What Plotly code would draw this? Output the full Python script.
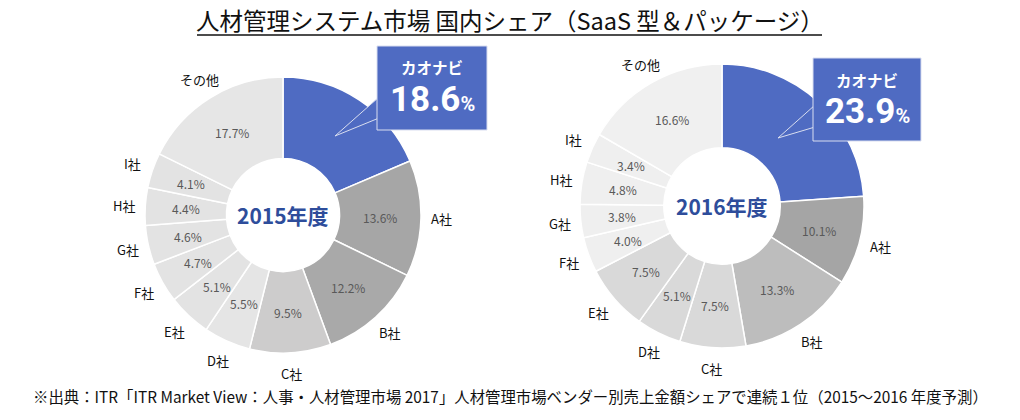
import math
import plotly.graph_objects as go

OFF = 8  # default page margin of the html body
W, H = 1020 - 2 * OFF, 420 - 2 * OFF

labels = ["カオナビ", "A社", "B社", "C社", "D社", "E社", "F社", "G社", "H社", "I社", "その他"]
share_2015 = [18.6, 13.6, 12.2, 9.5, 5.5, 5.1, 4.7, 4.6, 4.4, 4.1, 17.7]
share_2016 = [23.9, 10.1, 13.3, 7.5, 5.1, 7.5, 4.0, 3.8, 4.8, 3.4, 16.6]
years = ["2015年度", "2016年度"]
title_text = "人材管理システム市場 国内シェア（SaaS 型＆パッケージ）"
source_text = "※出典：ITR「ITR Market View：人事・人材管理市場 2017」人材管理市場ベンダー別売上金額シェアで連続１位（2015～2016 年度予測）"

colors_2015 = ["#4F6BC2", "#A6A6A6", "#A9A9A9", "#CDCCCC", "#E5E5E5", "#E3E3E3",
               "#E3E3E3", "#E3E3E3", "#E3E3E3", "#E3E3E3", "#E6E6E6"]
colors_2016 = ["#4F6BC2", "#A5A5A5", "#BDBDBD", "#D9D9D9", "#D9D9D9", "#D9D9D9",
               "#EFEFEF", "#EFEFEF", "#EFEFEF", "#EFEFEF", "#F0F0F0"]

FONT = "Noto Sans CJK JP"
HOLE = 0.41


def px(x):
    return (x - OFF) / W


def py(y):
    return 1 - (y - OFF) / H


def dom(cx, cy, r):
    return dict(x=[px(cx - r), px(cx + r)], y=[py(cy + r), py(cy - r)])


fig = go.Figure()

charts = [
    dict(vals=share_2015, cols=colors_2015, cx=283, cy=215, r=138, year=years[0],
         box=(377, 46, 487, 130), tip=(335, 136), b1=97, b2=118, t1=67, t2=100),
    dict(vals=share_2016, cols=colors_2016, cx=722, cy=206, r=142, year=years[1],
         box=(813, 58, 921, 141), tip=(778, 138), b1=105, b2=127, t1=80, t2=111),
]

shapes = []
annotations = []


def note(x, y, text, size, color, family=FONT):
    annotations.append(dict(x=px(x), y=py(y), xref="paper", yref="paper", showarrow=False,
                            xanchor="center", yanchor="middle", text=text,
                            font=dict(family=family, size=size, color=color)))


for c in charts:
    fig.add_trace(go.Pie(
        labels=labels, values=c["vals"], sort=False, direction="clockwise", rotation=0,
        hole=HOLE, domain=dom(c["cx"], c["cy"], c["r"]),
        marker=dict(colors=c["cols"], line=dict(color="white", width=1.5)),
        textinfo="none", hoverinfo="skip", showlegend=False,
    ))
    # slice value (mid ring) and category label (outside), at each slice's mid angle
    total = sum(c["vals"])
    cum = 0.0
    for lab, v in zip(labels, c["vals"]):
        mid = (cum + v / 2) / total * 2 * math.pi
        cum += v
        if lab == labels[0]:
            continue
        s, co = math.sin(mid), math.cos(mid)
        dm = c["r"] * (1 + HOLE) / 2
        note(c["cx"] + dm * s, c["cy"] - dm * co, f"{v:.1f}%", 12, "#595959")
        d = c["r"] + 21
        note(c["cx"] + d * s, c["cy"] - d * co, lab, 13, "#111111")
    note(c["cx"], c["cy"], "<b>" + c["year"] + "</b>", 21, "#2E4D9B")
    x0, y0, x1, y1 = c["box"]
    tx, ty = c["tip"]
    shapes.append(dict(type="path", xref="paper", yref="paper",
                       path=f"M {px(x0+2)} {py(c['b1'])} L {px(tx)} {py(ty)} L {px(x0+2)} {py(c['b2'])} Z",
                       fillcolor="#4F6BC2", line=dict(color="#D9DEF0", width=1)))
    shapes.append(dict(type="rect", xref="paper", yref="paper",
                       x0=px(x0), x1=px(x1), y0=py(y1), y1=py(y0),
                       fillcolor="#4F6BC2", line=dict(color="#D9DEF0", width=1)))
    bx = (x0 + x1) / 2
    note(bx, c["t1"], "<b>" + labels[0] + "</b>", 15.5, "white")
    note(bx, c["t2"], f"<b>{c['vals'][0]:.1f}<span style='font-size:20px'>%</span></b>", 35,
         "white", family="Roboto")

note(510, 20, title_text, 23.5, "#111111")
note(510, 396, source_text, 15.4, "#111111")
shapes.append(dict(type="line", xref="paper", yref="paper", x0=px(197), x1=px(822),
                   y0=py(35), y1=py(35), line=dict(color="#111111", width=1.5)))

fig.update_layout(
    width=W, height=H, margin=dict(l=0, r=0, t=0, b=0),
    paper_bgcolor="white", plot_bgcolor="white",
    shapes=shapes, annotations=annotations,
)

fig.write_html("out.html")
